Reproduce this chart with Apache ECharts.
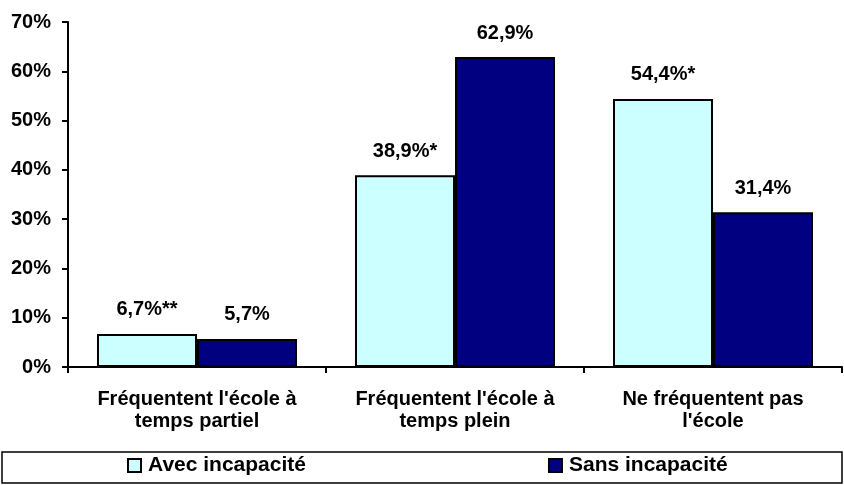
<!DOCTYPE html>
<html>
<head>
<meta charset="utf-8">
<script src="https://cdn.jsdelivr.net/npm/echarts@6/dist/echarts.min.js"></script>
<style>
  html, body { margin: 0; padding: 0; background: #ffffff; }
  #chart { width: 844px; height: 485px; }
</style>
</head>
<body>
<div id="chart"></div>
<script>
// School attendance, with and without disability (%)
var categories = [
  "Fréquentent l'école à\ntemps partiel",
  "Fréquentent l'école à\ntemps plein",
  "Ne fréquentent pas\nl'école"
];
var seriesNames = ['Avec incapacité', 'Sans incapacité'];
var avecValues = [6.7, 38.9, 54.4];
var sansValues = [5.7, 62.9, 31.4];
// significance markers printed after each value
var avecMarks = ['**', '*', '*'];
var sansMarks = ['', '', ''];
var yTicks = [0, 10, 20, 30, 40, 50, 60, 70];

var FONT = 'Liberation Sans, Arial, Helvetica, sans-serif';
var FS = 20;

function fmtPct(v) {
  return v.toFixed(1).replace('.', ',') + '%';
}

function labelFor(marks) {
  return {
    show: true,
    position: 'top',
    distance: 14,
    color: '#000',
    fontFamily: FONT,
    fontWeight: 'bold',
    fontSize: FS,
    formatter: function (p) { return fmtPct(p.value) + marks[p.dataIndex]; }
  };
}

var chart = echarts.init(document.getElementById('chart'), null, { renderer: 'canvas' });

chart.setOption({
  animation: false,
  backgroundColor: '#ffffff',
  textStyle: { fontFamily: FONT },
  grid: { left: 68, right: 2, top: 22, bottom: 118, containLabel: false },
  legend: {
    data: seriesNames,
    left: 127,
    top: 455,
    padding: 0,
    itemWidth: 13,
    itemHeight: 13,
    itemGap: 242,
    icon: 'rect',
    textStyle: {
      color: '#000',
      fontFamily: FONT,
      fontWeight: 'bold',
      fontSize: 21,
      padding: [0, 0, 0, 2]
    }
  },
  graphic: [{
    type: 'rect',
    shape: { x: 2, y: 452, width: 840, height: 31 },
    style: { fill: 'none', stroke: '#000', lineWidth: 1.5 },
    silent: true,
    z: -1
  }],
  xAxis: {
    type: 'category',
    data: categories,
    axisLine: { lineStyle: { color: '#000', width: 2 } },
    axisTick: { show: true, interval: 0, alignWithLabel: false, length: 6, lineStyle: { color: '#000', width: 2 } },
    axisLabel: {
      interval: 0,
      margin: 21,
      color: '#000',
      fontFamily: FONT,
      fontWeight: 'bold',
      fontSize: FS,
      lineHeight: 22,
      align: 'center'
    },
    splitLine: { show: false }
  },
  yAxis: {
    type: 'value',
    min: yTicks[0],
    max: yTicks[yTicks.length - 1],
    interval: 10,
    axisLine: { show: true, lineStyle: { color: '#000', width: 2 } },
    axisTick: { show: true, length: 6, lineStyle: { color: '#000', width: 2 } },
    axisLabel: {
      margin: 17,
      color: '#000',
      fontFamily: FONT,
      fontWeight: 'bold',
      fontSize: FS,
      formatter: '{value}%'
    },
    splitLine: { show: false }
  },
  series: [
    {
      name: seriesNames[0],
      type: 'bar',
      data: avecValues,
      barWidth: 100,
      barGap: '0%',
      itemStyle: { color: '#CCFFFF', borderColor: '#000', borderWidth: 2 },
      label: labelFor(avecMarks)
    },
    {
      name: seriesNames[1],
      type: 'bar',
      data: sansValues,
      barWidth: 100,
      barGap: '0%',
      itemStyle: { color: '#000080', borderColor: '#000', borderWidth: 2 },
      label: labelFor(sansMarks)
    }
  ]
});
</script>
</body>
</html>
